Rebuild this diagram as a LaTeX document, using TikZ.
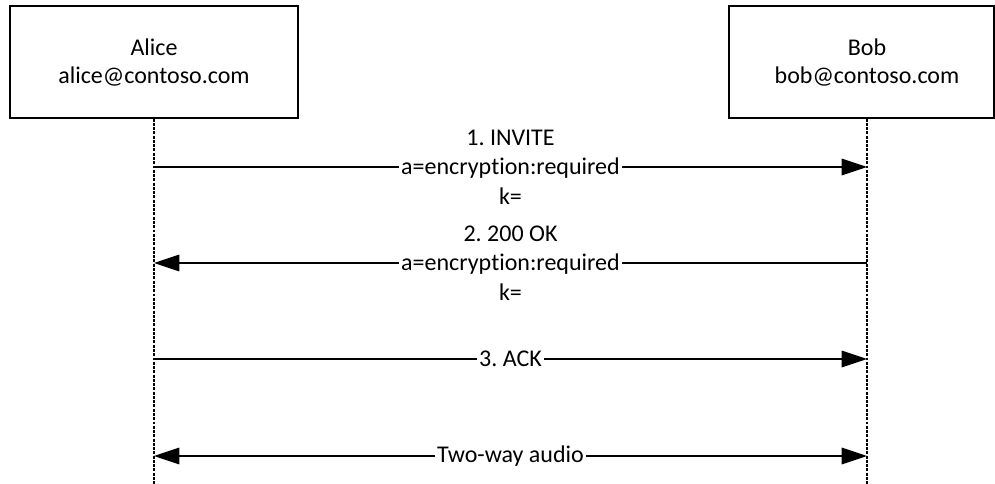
\documentclass[tikz,border=0pt]{standalone}
\usepackage{fontspec}
\setmainfont{Carlito}[Ligatures={NoCommon,NoRequired,NoContextual}]
\usetikzlibrary{arrows.meta}
\begin{document}
\frenchspacing
\begin{tikzpicture}[x=0.75pt,y=-0.75pt,
  font=\fontsize{18}{22}\selectfont\frenchspacing,
  actorbox/.style={draw, line width=0.9pt, minimum width=216pt, minimum height=84pt, inner sep=0pt, align=center},
  actortext/.style={align=center, font=\fontsize{18}{21}\selectfont},
  lifeline/.style={line width=0.8pt, dash pattern=on 2.2pt off 1pt},
  msg/.style={line width=0.9pt, -{Triangle[length=19pt,width=12.5pt]}},
  msgboth/.style={line width=0.9pt, {Triangle[length=19pt,width=12.5pt]}-{Triangle[length=19pt,width=12.5pt]}},
  msglabel/.style={fill=white, align=center, inner xsep=1.5pt, inner ysep=0pt}
]
\useasboundingbox (0,0) rectangle (995,484);
% actors
\node[actorbox] (alice) at (154,62) {};
\node[actortext] (alicetext) at (154,63) {Alice\\alice@contoso.com};
\node[actorbox, minimum width=198.75pt] (bob) at (861.5,62) {};
\node[actortext] (bobtext) at (867,63) {Bob\\bob@contoso.com};
% lifeline ends
\coordinate (aend) at (154,484);
\coordinate (bend) at (867,484);
\draw[lifeline] (alicetext |- alice.south) -- (aend);
\draw[lifeline] (bobtext |- bob.south) -- (bend);
% message points
\coordinate (a1) at (154,167); \coordinate (b1) at (867,167);
\coordinate (a2) at (154,263); \coordinate (b2) at (867,263);
\coordinate (a3) at (154,359); \coordinate (b3) at (867,359);
\coordinate (a4) at (154,456); \coordinate (b4) at (867,456);
\draw[msg] (a1) -- node[msglabel] (m1) {1. INVITE\\a=encryption:required\\k=} (b1);
\draw[msg] (b2) -- node[msglabel] (m2) {2. 200 OK\\a=encryption:required\\k=} (a2);
\draw[msg] (a3) -- node[msglabel] (m3) {3. ACK} (b3);
\draw[msgboth] (a4) -- node[msglabel] (m4) {Two-way audio} (b4);
\end{tikzpicture}
\end{document}
